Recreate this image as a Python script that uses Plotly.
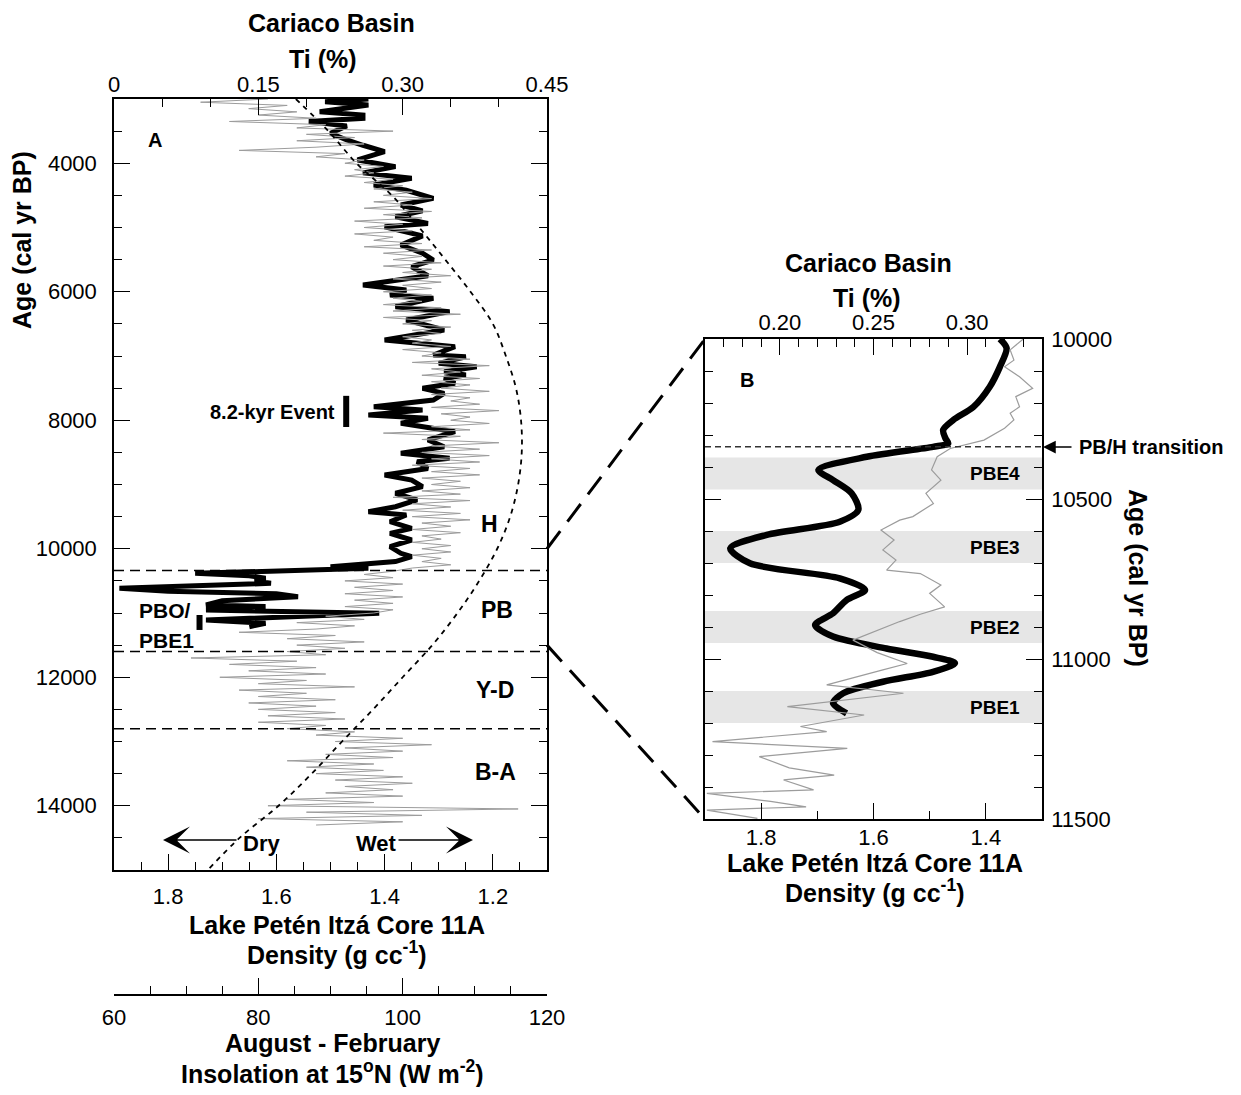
import plotly.graph_objects as go

# ---------------- DATA ----------------
# Panel A: Cariaco Basin Ti (%) -- grey series, sampled every 50 yr from 3000 to 14300 cal yr BP
ti_a_start, ti_a_step = 3000, 50
ti_a = [
    0.16, 0.09, 0.18, 0.14, 0.19, 0.15, 0.21, 0.12, 0.22, 0.19,
    0.29, 0.20, 0.25, 0.19, 0.26, 0.21, 0.13, 0.24, 0.21, 0.26,
    0.24, 0.28, 0.25, 0.27, 0.24, 0.29, 0.26, 0.30, 0.27, 0.31,
    0.28, 0.33, 0.27, 0.31, 0.26, 0.33, 0.28, 0.32, 0.25, 0.30,
    0.26, 0.31, 0.25, 0.29, 0.27, 0.32, 0.26, 0.33, 0.28, 0.32,
    0.29, 0.34, 0.28, 0.33, 0.30, 0.35, 0.29, 0.34, 0.30, 0.33,
    0.28, 0.33, 0.29, 0.32, 0.28, 0.34, 0.29, 0.36, 0.28, 0.33,
    0.30, 0.35, 0.31, 0.34, 0.30, 0.33, 0.31, 0.35, 0.30, 0.34,
    0.32, 0.37, 0.31, 0.39, 0.33, 0.36, 0.32, 0.38, 0.33, 0.37,
    0.34, 0.39, 0.33, 0.37, 0.35, 0.38, 0.33, 0.40, 0.34, 0.37,
    0.35, 0.39, 0.33, 0.37, 0.28, 0.36, 0.32, 0.40, 0.33, 0.38,
    0.32, 0.39, 0.33, 0.38, 0.31, 0.37, 0.33, 0.38, 0.32, 0.36,
    0.33, 0.37, 0.32, 0.36, 0.29, 0.37, 0.31, 0.35, 0.30, 0.36,
    0.31, 0.37, 0.32, 0.35, 0.31, 0.36, 0.32, 0.34, 0.31, 0.35,
    0.32, 0.35, 0.31, 0.34, 0.32, 0.35, 0.31, 0.29, 0.26, 0.29,
    0.24, 0.30, 0.25, 0.29, 0.24, 0.30, 0.25, 0.29, 0.24, 0.29,
    0.27, 0.22, 0.26, 0.19, 0.25, 0.21, 0.13, 0.23, 0.18, 0.26,
    0.19, 0.24, 0.18, 0.22, 0.08, 0.19, 0.12, 0.21, 0.14, 0.22,
    0.11, 0.20, 0.15, 0.25, 0.13, 0.20, 0.15, 0.23, 0.14, 0.21,
    0.15, 0.23, 0.16, 0.24, 0.15, 0.22, 0.18, 0.25, 0.21, 0.30,
    0.23, 0.33, 0.24, 0.30, 0.22, 0.29, 0.18, 0.27, 0.20, 0.28,
    0.21, 0.30, 0.23, 0.31, 0.24, 0.29, 0.22, 0.30, 0.18, 0.27,
    0.16, 0.42, 0.20, 0.32, 0.15, 0.30, 0.21,
]
age_ti_a = [ti_a_start + i * ti_a_step for i in range(len(ti_a))]

# Panel A: Lake Peten Itza Core 11A density (g/cc) -- black series
age_dens_a = [
    3000, 3042, 3093, 3145, 3197, 3250, 3300, 3352, 3420, 3534,
    3638, 3720, 3820, 3949, 4053, 4150, 4235, 4339, 4420, 4546,
    4650, 4740, 4832, 4936, 4988, 5130, 5272, 5400, 5506, 5610,
    5750, 5895, 5973, 6050, 6102, 6232, 6310, 6440, 6595, 6751,
    6855, 6984, 7011, 7114, 7166, 7244, 7296, 7347, 7425, 7503,
    7581, 7685, 7736, 7789, 7840, 7918, 7970, 8047, 8178, 8307,
    8412, 8514, 8593, 8645, 8750, 8852, 8930, 9034, 9137, 9241,
    9346, 9423, 9475, 9579, 9682, 9760, 9864, 9968, 10071, 10124,
    10200, 10279, 10305, 10383, 10420, 10460, 10500, 10538, 10616, 10660,
    10700, 10746, 10810, 10875, 10900, 10953, 11004, 11060, 11109, 11160,
    11213,
]
dens_a = [
    1.43, 1.51, 1.43, 1.47, 1.52, 1.44, 1.44, 1.54, 1.47, 1.50,
    1.47, 1.44, 1.40, 1.45, 1.38, 1.44, 1.35, 1.42, 1.36, 1.31,
    1.37, 1.33, 1.38, 1.32, 1.40, 1.33, 1.37, 1.33, 1.31, 1.35,
    1.32, 1.44, 1.36, 1.39, 1.31, 1.38, 1.28, 1.36, 1.29, 1.40,
    1.27, 1.31, 1.25, 1.30, 1.23, 1.29, 1.25, 1.29, 1.27, 1.33,
    1.29, 1.31, 1.37, 1.42, 1.33, 1.43, 1.32, 1.37, 1.27, 1.32,
    1.29, 1.37, 1.28, 1.34, 1.32, 1.40, 1.35, 1.33, 1.38, 1.34,
    1.38, 1.43, 1.36, 1.39, 1.35, 1.39, 1.35, 1.39, 1.37, 1.35,
    1.38, 1.50, 1.43, 1.75, 1.65, 1.62, 1.64, 1.61, 1.89, 1.80,
    1.60, 1.56, 1.70, 1.73, 1.62, 1.73, 1.41, 1.60, 1.73, 1.62,
    1.65,
]

# Panel A: August-February insolation at 15N (W m-2) -- dashed curve
age_ins = [3000, 3500, 4000, 4500, 5000, 5500, 6000, 6500, 7000, 7500, 8000, 8500, 9000,
           9500, 10000, 10500, 11000, 11500, 12000, 12500, 13000, 13500, 14000, 14500, 15000]
insolation = [85.2, 89.7, 93.6, 98.5, 102.3, 105.9, 109.4, 112.5, 114.3, 115.7, 116.4, 116.5, 116.0,
              114.9, 113.1, 110.6, 107.6, 104.1, 100.0, 95.9, 91.6, 87.4, 82.8, 77.4, 73.0]

# Panel B: zoom 10000-11500
age_ti_b = [10000, 10034, 10066, 10087, 10118, 10154, 10180, 10212, 10232, 10253,
            10279, 10316, 10342, 10368, 10409, 10441, 10482, 10514, 10555, 10566,
            10597, 10628, 10659, 10691, 10722, 10733, 10769, 10795, 10837, 10860,
            10883, 10941, 10980, 11014, 11034, 11081, 11107, 11149, 11175, 11211,
            11227, 11258, 11279, 11305, 11340, 11363, 11378, 11409, 11420, 11445,
            11462, 11472, 11498]
ti_b = [0.330, 0.323, 0.325, 0.320, 0.328, 0.335, 0.326, 0.328, 0.323, 0.325,
        0.320, 0.309, 0.291, 0.284, 0.281, 0.286, 0.278, 0.282, 0.271, 0.264,
        0.254, 0.261, 0.255, 0.262, 0.257, 0.275, 0.286, 0.280, 0.288, 0.275,
        0.264, 0.239, 0.252, 0.268, 0.255, 0.225, 0.266, 0.204, 0.245, 0.211,
        0.225, 0.164, 0.236, 0.189, 0.205, 0.229, 0.202, 0.218, 0.161, 0.195,
        0.214, 0.161, 0.188]

age_dens_b = [10000, 10029, 10087, 10149, 10212, 10253, 10284, 10310, 10326, 10337,
              10368, 10409, 10441, 10482, 10534, 10571, 10612, 10654, 10701, 10748,
              10784, 10816, 10857, 10894, 10930, 10967, 10993, 11013, 11040, 11071,
              11107, 11138, 11170]
dens_b = [1.375, 1.363, 1.375, 1.393, 1.422, 1.458, 1.476, 1.472, 1.467, 1.494,
          1.612, 1.698, 1.672, 1.639, 1.627, 1.660, 1.790, 1.855, 1.820, 1.660,
          1.615, 1.648, 1.672, 1.704, 1.672, 1.577, 1.494, 1.455, 1.494, 1.583,
          1.654, 1.672, 1.648]

# Event bands (panel B) and boundaries
pbe_names = ["PBE4", "PBE3", "PBE2", "PBE1"]
pbe_start = [10370, 10600, 10850, 11100]
pbe_end = [10470, 10700, 10950, 11200]
boundary_ages = [10340, 11600, 12800]
pbh_age_b = 10337
zone_labels = ["H", "PB", "Y-D", "B-A"]

# ---------------- LAYOUT HELPERS ----------------
# the page body has an 8 px margin, so the figure is drawn 8 px in from the top-left
OFF = 8
W, H = 1241 - 2 * OFF, 1095 - 2 * OFF
def px(x): return (x - OFF) / W
def py(y): return 1 - (y - OFF) / H

A_X = [px(114), px(547)]
A_Y = [py(870), py(99)]
B_X = [px(705), px(1042)]
B_Y = [py(819), py(339)]
INS_POS = py(995)

FONT = "Liberation Sans, Arial, Helvetica, sans-serif"
TICKFONT = dict(family=FONT, size=22, color="black")

def ax_common(**kw):
    d = dict(showline=True, linecolor="black", linewidth=1.5, showgrid=False, zeroline=False,
             ticks="inside", tickcolor="black", tickwidth=1.3, ticklen=16, tickfont=TICKFONT,
             automargin=False, fixedrange=True)
    d.update(kw)
    return d

def minor(dt):
    return dict(ticks="inside", ticklen=8, dtick=dt, tick0=0, tickcolor="black", tickwidth=1.3, showgrid=False)

fig = go.Figure()

# grey Ti (A)
fig.add_trace(go.Scatter(x=ti_a, y=age_ti_a, xaxis="x2", yaxis="y", mode="lines",
                         line=dict(color="#9c9c9c", width=1), showlegend=False, hoverinfo="skip"))
# insolation (A)
fig.add_trace(go.Scatter(x=insolation, y=age_ins, xaxis="x3", yaxis="y", mode="lines",
                         line=dict(color="black", width=1.8, dash="5px,5px", shape="spline"),
                         showlegend=False, hoverinfo="skip"))
# density (A)
fig.add_trace(go.Scatter(x=dens_a, y=age_dens_a, xaxis="x", yaxis="y", mode="lines",
                         line=dict(color="black", width=5), showlegend=False, hoverinfo="skip"))
# grey Ti (B)
fig.add_trace(go.Scatter(x=ti_b, y=age_ti_b, xaxis="x5", yaxis="y4", mode="lines",
                         line=dict(color="#9c9c9c", width=1.2), showlegend=False, hoverinfo="skip"))
# density (B)
fig.add_trace(go.Scatter(x=dens_b, y=age_dens_b, xaxis="x4", yaxis="y4", mode="lines",
                         line=dict(color="black", width=6.5, shape="spline", smoothing=0.8),
                         showlegend=False, hoverinfo="skip"))

fig.update_layout(
    width=W, height=H, margin=dict(l=0, r=0, t=0, b=0), autosize=False,
    paper_bgcolor="white", plot_bgcolor="white", hovermode=False, showlegend=False,
    xaxis=ax_common(domain=A_X, range=[1.9, 1.1], anchor="y", side="bottom",
                    tick0=1.2, dtick=0.2, tickformat=".1f", minor=minor(0.05), ticklabelstandoff=6),
    xaxis2=ax_common(range=[0, 0.45], overlaying="x", anchor="y", side="top",
                     tick0=0, dtick=0.15, tickformat=".2f", labelalias={"0.00": "0"},
                     minor=minor(0.05), ticklabelstandoff=-4),
    xaxis3=ax_common(range=[60, 120], overlaying="x", anchor="free", position=INS_POS, side="bottom",
                     tick0=0, dtick=20, minor=minor(5), ticklabelstandoff=3),
    yaxis=ax_common(domain=A_Y, range=[15000, 3000], anchor="x", side="left", mirror="ticks",
                    tick0=0, dtick=2000, tickformat="d", minor=minor(500), ticklabelstandoff=11),
    xaxis4=ax_common(domain=B_X, range=[1.9, 1.3], anchor="y4", side="bottom",
                     tick0=1.4, dtick=0.2, tickformat=".1f", minor=minor(0.1), ticklabelstandoff=-2),
    xaxis5=ax_common(range=[0.16, 0.34], overlaying="x4", anchor="y4", side="top",
                     tick0=0.2, dtick=0.05, tickformat=".2f", minor=minor(0.01), ticklabelstandoff=-2),
    yaxis4=ax_common(domain=B_Y, range=[11500, 10000], anchor="x4", side="right", mirror="ticks",
                     tick0=10000, dtick=500, tickformat="d", minor=minor(100), ticklabelstandoff=3),
)

# ---------------- SHAPES ----------------
for a in boundary_ages:
    fig.add_shape(type="line", xref="x domain", yref="y", x0=0, x1=1, y0=a, y1=a,
                  line=dict(color="black", width=1.5, dash="10px,6px"))

for s, e in zip(pbe_start, pbe_end):
    fig.add_shape(type="rect", xref="x4 domain", yref="y4", x0=0, x1=1, y0=s, y1=e,
                  fillcolor="#e6e6e6", line=dict(width=0), layer="below")

fig.add_shape(type="line", xref="x4 domain", yref="y4", x0=0, x1=1, y0=pbh_age_b, y1=pbh_age_b,
              line=dict(color="#333333", width=1.5, dash="6px,4px"))

# event bars
fig.add_shape(type="line", xref="x", yref="y", x0=1.471, x1=1.471, y0=7620, y1=8105,
              line=dict(color="black", width=6))
fig.add_shape(type="line", xref="x", yref="y", x0=1.742, x1=1.742, y0=11031, y1=11264,
              line=dict(color="black", width=6))

# zoom connector lines
def age_to_paper_a(a):
    return A_Y[0] + (15000 - a) / 12000 * (A_Y[1] - A_Y[0])

fig.add_shape(type="line", xref="paper", yref="paper", x0=A_X[1], y0=age_to_paper_a(10000),
              x1=B_X[0], y1=B_Y[1], line=dict(color="black", width=3, dash="22px,12px"))
fig.add_shape(type="line", xref="paper", yref="paper", x0=A_X[1], y0=age_to_paper_a(11500),
              x1=B_X[0], y1=B_Y[0], line=dict(color="black", width=3, dash="22px,12px"))

# ---------------- TEXT ----------------
def txt(x, y, s, size=20, bold=True, xanchor="center", yanchor="middle", angle=0):
    fig.add_annotation(x=px(x), y=py(y), xref="paper", yref="paper",
                       text=f"<b>{s}</b>" if bold else s, showarrow=False,
                       font=dict(family=FONT, size=size, color="black"),
                       xanchor=xanchor, yanchor=yanchor, textangle=angle)

TS = 25
# Panel A axis titles
txt(331, 23, "Cariaco Basin", TS)
txt(323, 59, "Ti (%)", TS)
txt(337, 925, "Lake Petén Itzá Core 11A", TS)
txt(337, 953, "Density (g cc<sup>-1</sup>)", TS)
txt(332, 1043, "August - February", TS)
txt(332, 1072, "Insolation at 15<sup>o</sup>N (W m<sup>-2</sup>)", TS)
txt(22, 240, "Age (cal yr BP)", TS, angle=-90)
# Panel B axis titles
txt(868, 263, "Cariaco Basin", TS)
txt(867, 298, "Ti (%)", TS)
txt(875, 863, "Lake Petén Itzá Core 11A", TS)
txt(875, 891, "Density (g cc<sup>-1</sup>)", TS)
txt(1138, 578, "Age (cal yr BP)", TS, angle=90)

# Panel A labels
txt(155, 140, "A", 20)
txt(337, 412, "8.2-kyr Event", 20, xanchor="right")
zone_pos = [(489, 524), (497, 610), (495, 690), (495, 772)]
for lab, (xx, yy) in zip(zone_labels, zone_pos):
    txt(xx, yy, lab, 23)
txt(137, 611, "PBO/", 21, xanchor="left")
txt(137, 640, "PBE1", 21, xanchor="left")
txt(262, 843, "Dry", 22)
txt(376, 843, "Wet", 22)

# Panel B labels
txt(747, 380, "B", 20)
for name, s, e in zip(pbe_names, pbe_start, pbe_end):
    yy = 339 + ((s + e) / 2 - 10000) * 0.32
    txt(1022, yy, name, 19, xanchor="right")
txt(1077, 447, "PB/H transition", 20, xanchor="left")

# arrows
def arrow(xtip, ytip, dx, head, size, width=1.5):
    fig.add_annotation(x=px(xtip), y=py(ytip), xref="paper", yref="paper", ax=dx, ay=0,
                       text="", showarrow=True, arrowhead=head, arrowsize=size, arrowwidth=width,
                       arrowcolor="black", standoff=0, startstandoff=0)

arrow(163, 840, 75, 3, 3.0)
arrow(473, 840, -76, 3, 3.0)
arrow(1043, 447, 30, 2, 1.7)

fig.write_html("out.html")
